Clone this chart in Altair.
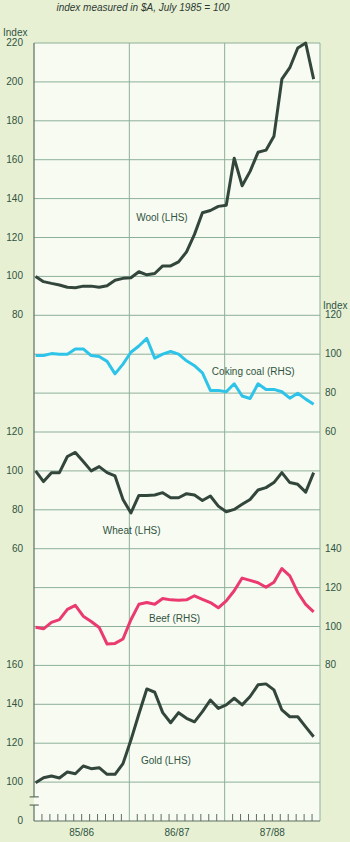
import altair as alt
import pandas as pd

# ---------------- data (monthly, July 1985 .. June 1988) ----------------
wool = [100, 97.3, 96.4, 95.6, 94.4, 94.2, 95, 95, 94.4, 95.2, 98, 99,
        99.3, 102.4, 100.8, 101.5, 105.4, 105.4, 107.5, 112.6, 121.6, 132.7, 133.9, 136,
        136.6, 160.8, 146.6, 154, 163.8, 164.9, 172, 201.4, 207.3, 217.4, 220, 201.4]
coal = [99.3, 99.3, 100.3, 100, 100, 102.7, 102.7, 99.3, 98.8, 96.3, 89.9, 94.9,
        101, 104.2, 108.1, 98, 100, 101.4, 100, 96.6, 94.1, 90.4, 81.4, 81.4,
        80.7, 84.8, 78.5, 77.2, 84.8, 81.9, 81.9, 80.7, 77.4, 79.9, 76.9, 74.3]
wheat = [100, 94.5, 99.1, 99.1, 107.4, 109.5, 104.8, 100, 102.2, 99.1, 97.4, 85.3,
         78.4, 87.4, 87.4, 87.6, 88.8, 86.2, 86.2, 88.3, 87.6, 84.8, 87.1, 81.9,
         79, 80.2, 82.8, 85.3, 90.2, 91.4, 94, 99.1, 94, 93.1, 89.1, 99.1]
beef = [99.6, 98.8, 102.1, 103.5, 108.8, 110.9, 105.3, 102.6, 99.5, 91, 91.3, 93.6,
        103.5, 111.4, 112.3, 111.4, 114.4, 113.7, 113.5, 113.7, 115.8, 114, 112.3, 109.6,
        113.2, 118.4, 124.9, 123.7, 122.5, 120.2, 122.8, 129.8, 126, 117.5, 111.4, 107.5]
gold = [99.7, 102.2, 103.1, 102.1, 105.2, 104.3, 108.3, 106.9, 107.4, 104, 104, 109.5,
        121.6, 135, 147.9, 146.2, 135.7, 130.5, 135.7, 132.8, 131, 136.2, 142.2, 137.9,
        139.7, 143.1, 139.7, 144, 150, 150.5, 147.4, 137.1, 133.6, 133.6, 128.4, 123.3]

series_names = ["Wool (LHS)", "Coking coal (RHS)", "Wheat (LHS)", "Beef (RHS)", "Gold (LHS)"]
series_values = [wool, coal, wheat, beef, gold]

# tick labels of each stacked panel
wool_ticks = [80, 100, 120, 140, 160, 180, 200, 220]
coal_ticks = [60, 80, 100, 120]
wheat_ticks = [60, 80, 100, 120]
beef_ticks = [80, 100, 120, 140]
gold_ticks = [100, 120, 140, 160]
year_labels = ["85/86", "86/87", "87/88"]
title_text = "index measured in $A, July 1985 = 100"

# ---------------- layout / style ----------------
base_rows = [14, 12, 9, 5, 1]          # grid row where index 100 sits for each panel
line_colors = ["#33463c", "#2ec4ea", "#33463c", "#ea3a70", "#33463c"]
label_pos = [(16.1, 15.5), (27.6, 11.55), (12.3, 7.45), (17.7, 5.2), (16.6, 1.55)]
W, H = 286, 778
TXT = "#2f5442"
GRID = "#8db09a"
AXIS = "#5c6f62"
FONT = "Liberation Sans"


def row(v, base):
    return base + (v - 100) / 20.0


rows = []
for name, vals, base in zip(series_names, series_values, base_rows):
    for i, v in enumerate(vals):
        rows.append({"series": name, "m": i + 0.2, "u": row(v, base)})
lines_df = pd.DataFrame(rows)

xs = alt.Scale(domain=[0, 36])
ys = alt.Scale(domain=[0, 20])

# grid
hgrid = alt.Chart(pd.DataFrame({"u": list(range(1, 21)), "x0": 0, "x1": 36})).mark_rule(
    color=GRID, strokeWidth=1).encode(
    x=alt.X("x0:Q", scale=xs, axis=None), x2="x1:Q", y=alt.Y("u:Q", scale=ys, axis=None))
vgrid = alt.Chart(pd.DataFrame({"m": [12, 24, 36], "y0": 0, "y1": 20})).mark_rule(
    color=GRID, strokeWidth=1).encode(
    x=alt.X("m:Q", scale=xs, axis=None), y=alt.Y("y0:Q", scale=ys, axis=None), y2="y1:Q")

# axes (left axis broken near the bottom)
axis_df = pd.DataFrame({
    "x0": [0, 0, 0, -0.55, -0.55],
    "x1": [36, 0, 0, 0.6, 0.6],
    "y0": [0, 0, 0.62, 0.41, 0.62],
    "y1": [0, 0.41, 20, 0.41, 0.62],
})
axes = alt.Chart(axis_df).mark_rule(color=AXIS, strokeWidth=1.2).encode(
    x=alt.X("x0:Q", scale=xs, axis=None), x2="x1:Q",
    y=alt.Y("y0:Q", scale=ys, axis=None), y2="y1:Q")

tick_m = [m for m in range(1, 36) if m not in (12, 24)]
ticks = alt.Chart(pd.DataFrame({"m": tick_m, "y0": 0, "y1": 0.18})).mark_rule(
    color=AXIS, strokeWidth=1).encode(
    x=alt.X("m:Q", scale=xs, axis=None), y=alt.Y("y0:Q", scale=ys, axis=None), y2="y1:Q")

# series lines
lines = alt.Chart(lines_df).mark_line(strokeWidth=3, strokeJoin="round").encode(
    x=alt.X("m:Q", scale=xs, axis=None),
    y=alt.Y("u:Q", scale=ys, axis=None),
    color=alt.Color("series:N", scale=alt.Scale(domain=series_names, range=line_colors), legend=None),
    detail="series:N")

# series labels
lab_df = pd.DataFrame({"t": series_names,
                       "m": [p[0] for p in label_pos],
                       "u": [p[1] for p in label_pos]})
series_labels = alt.Chart(lab_df).mark_text(font=FONT, fontSize=10, color=TXT,
                                            align="center", baseline="middle").encode(
    x=alt.X("m:Q", scale=xs, axis=None), y=alt.Y("u:Q", scale=ys, axis=None), text="t:N")

# tick labels
left_rows = ([{"t": str(v), "u": row(v, 14)} for v in wool_ticks] +
             [{"t": str(v), "u": row(v, 9)} for v in wheat_ticks] +
             [{"t": str(v), "u": row(v, 1)} for v in gold_ticks] +
             [{"t": "0", "u": 0}])
right_rows = ([{"t": str(v), "u": row(v, 12)} for v in coal_ticks] +
              [{"t": str(v), "u": row(v, 5)} for v in beef_ticks])
left_labels = alt.Chart(pd.DataFrame(left_rows)).mark_text(
    font=FONT, fontSize=10, color=TXT, align="right", baseline="middle").encode(
    x=alt.value(-11), y=alt.Y("u:Q", scale=ys, axis=None), text="t:N")
right_labels = alt.Chart(pd.DataFrame(right_rows)).mark_text(
    font=FONT, fontSize=10, color=TXT, align="left", baseline="middle").encode(
    x=alt.value(291), y=alt.Y("u:Q", scale=ys, axis=None), text="t:N")

index_labels = alt.Chart(pd.DataFrame({"t": ["Index", "Index"], "px": [-31, 289],
                                       "u": [20.25, 13.25]})).mark_text(
    font=FONT, fontSize=10, color=TXT, align="left", baseline="middle").encode(
    x=alt.X("px:Q", scale=None), y=alt.Y("u:Q", scale=ys, axis=None), text="t:N")

year_text = alt.Chart(pd.DataFrame({"t": year_labels,
                                    "m": [6 + 12 * i for i in range(len(year_labels))]})).mark_text(
    font=FONT, fontSize=10, color=TXT, align="center", baseline="middle").encode(
    x=alt.X("m:Q", scale=xs, axis=None), y=alt.value(790), text="t:N")

title = alt.Chart(pd.DataFrame({"t": [title_text]})).mark_text(
    font=FONT, fontSize=10, fontStyle="italic", color="#2c3a33",
    align="center", baseline="middle").encode(
    x=alt.value(109), y=alt.value(-35), text="t:N")

chart = alt.layer(
    hgrid, vgrid, axes, ticks, lines, series_labels,
    left_labels, right_labels, index_labels, year_text, title
).properties(
    width=W, height=H,
    autosize=alt.AutoSizeParams(type="none"),
    padding={"left": 34, "top": 43, "right": 30, "bottom": 21},
    background="#e8f0d4",
).configure_view(fill="#f8fbf1", stroke=None)

chart.save("out.html", embed_options={"renderer": "svg", "actions": False})
